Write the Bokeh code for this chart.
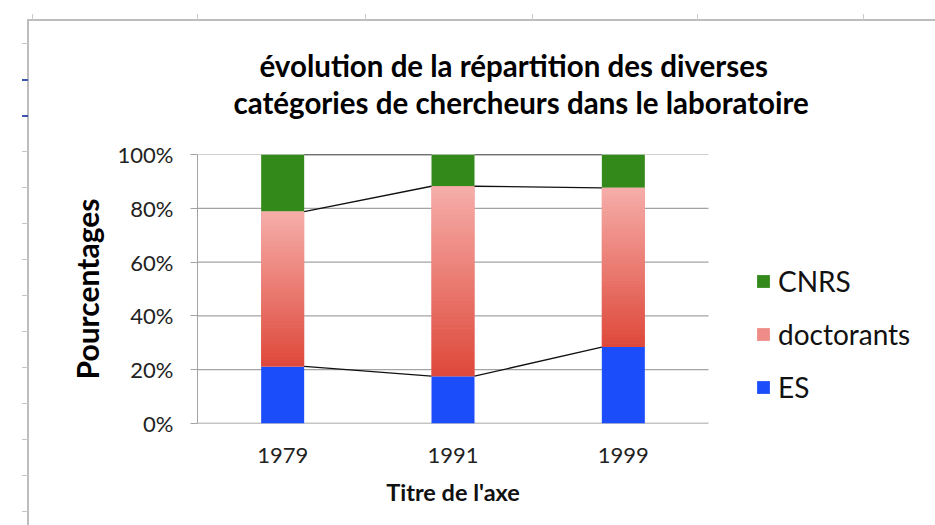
from bokeh.plotting import figure
from bokeh.models import (ColumnDataSource, FixedTicker, NumeralTickFormatter,
                          Legend, LegendItem, Range1d, LinearAxis, Title)
from bokeh.embed import file_html
from bokeh.resources import INLINE

# ---------------- data ----------------
years = ["1979", "1991", "1999"]
es = [0.212, 0.176, 0.284]
doctorants = [0.576, 0.706, 0.592]
cnrs = [0.212, 0.118, 0.124]
y_ticks = [0.0, 0.2, 0.4, 0.6, 0.8, 1.0]
series_names = ["CNRS", "doctorants", "ES"]
title_lines = ["évolution de la répartition des diverses",
               "catégories de chercheurs dans le laboratoire"]
y_label = "Pourcentages"
x_label = "Titre de l'axe"

# ---------------- style ----------------
FONT = "Lato"
BLUE = "#1c4dfb"
GREEN = "#33891a"
PINK_TOP = (246, 174, 170)
RED_BOT = (222, 72, 58)
GRID = "#a3a3a3"
W, H = 935, 525
BW = 0.2525
FRAME_L, FRAME_T, FRAME_B = 197, 154, 423
CAT_RIGHT = 708          # pixel where the category area ends (legend sits beyond)

# spreadsheet frame lines around the chart (pure decoration, CSS background layers)
layers = []
def css_box(x, y, w, h, col):
    layers.append((f"linear-gradient({col},{col})", f"{x}px {y}px", f"{w}px {h}px"))
css_box(22, 79, 6, 2, "#3d55b0")
css_box(22, 115, 6, 2, "#3d55b0")
for k in range(14):
    css_box(22, 43 + 36 * k, 6, 1, "#c6c6c6")
for xx in [32, 197, 365, 532, 697, 863]:
    css_box(xx, 14, 1, 6, "#cccccc")
css_box(28, 19, W - 28, 2, "#bdbdbd")
css_box(27, 19, 2, H - 19, "#bdbdbd")
styles = {
    "background-color": "white",
    "background-image": ",".join(l[0] for l in layers),
    "background-position": ",".join(l[1] for l in layers),
    "background-size": ",".join(l[2] for l in layers),
    "background-repeat": "no-repeat",
}

n = len(years)
xs = [i + 0.5 for i in range(n)]
x_end = n * (W - FRAME_L) / (CAT_RIGHT - FRAME_L)

p = figure(x_range=Range1d(0, x_end), y_range=Range1d(0, 1),
           width=W, height=H, output_backend="svg", toolbar_location=None,
           title=title_lines[0],
           min_border_left=FRAME_L, min_border_right=0, min_border_top=FRAME_T,
           min_border_bottom=H - FRAME_B, background_fill_color="white",
           border_fill_alpha=0, outline_line_color=None, styles=styles)

# horizontal gridlines limited to the category area
p.xgrid.grid_line_color = None
p.ygrid.grid_line_color = None
p.segment(x0=[0] * (len(y_ticks) - 1), x1=[n] * (len(y_ticks) - 1),
          y0=y_ticks[1:], y1=y_ticks[1:], line_color=GRID, line_width=1.2)
p.segment(x0=[0], x1=[n], y0=[y_ticks[0]], y1=[y_ticks[0]],
          line_color="#8a8a8a", line_width=1.4)

doc_top = [e + d for e, d in zip(es, doctorants)]
tot_top = [e + d + c for e, d, c in zip(es, doctorants, cnrs)]

src = ColumnDataSource(dict(x=xs, es=es, doc_top=doc_top, tot=tot_top))
r_es = p.vbar(x="x", bottom=0, top="es", width=BW, fill_color=BLUE,
              line_color=None, source=src)
r_doc = p.vbar(x="x", bottom="es", top="doc_top", width=BW, fill_color="#ef8c87",
               line_color=None, source=src)
r_cnrs = p.vbar(x="x", bottom="doc_top", top="tot", width=BW, fill_color=GREEN,
                line_color=None, source=src)

# gradient strips over the doctorants segment
N = 48
gx, gb, gt, gc = [], [], [], []
for i in range(n):
    b, t = es[i], doc_top[i]
    for k in range(N):
        f = (k + 0.5) / N
        gx.append(xs[i])
        gb.append(b + (t - b) * k / N)
        gt.append(min(t, b + (t - b) * (k + 1) / N + 0.002))
        c = tuple(int(round(RED_BOT[j] + (PINK_TOP[j] - RED_BOT[j]) * f)) for j in range(3))
        gc.append("#%02x%02x%02x" % c)
p.vbar(x=gx, bottom=gb, top=gt, width=BW, fill_color=gc, line_color=None)

# series lines between bars
sx0, sx1, sy0, sy1 = [], [], [], []
for lv in [es, doc_top, tot_top]:
    for i in range(n - 1):
        sx0.append(xs[i] + BW / 2)
        sx1.append(xs[i + 1] - BW / 2)
        sy0.append(lv[i])
        sy1.append(lv[i + 1])
p.segment(x0=sx0, x1=sx1, y0=sy0, y1=sy1, line_color="#111111", line_width=1.3)

# y axis
ya = p.yaxis[0]
ya.ticker = FixedTicker(ticks=y_ticks)
ya.formatter = NumeralTickFormatter(format="0%")
ya.major_tick_out = 7
ya.major_tick_in = 0
ya.minor_tick_line_color = None
ya.major_tick_line_color = GRID
ya.axis_line_color = GRID
ya.major_label_standoff = 17
ya.major_label_text_font = FONT
ya.major_label_text_font_size = "22px"
ya.major_label_text_color = "#222222"
ya.axis_label = y_label
ya.axis_label_text_font = FONT
ya.axis_label_text_font_style = "bold"
ya.axis_label_text_font_size = "30px"
ya.axis_label_text_color = "#000000"
ya.axis_label_standoff = 10

# x axis (categories)
xa = p.xaxis[0]
xa.ticker = FixedTicker(ticks=xs)
xa.major_label_overrides = {x: y for x, y in zip(xs, years)}
xa.axis_line_color = None
xa.major_tick_line_color = None
xa.minor_tick_line_color = None
xa.major_label_standoff = 18
xa.major_label_text_font = FONT
xa.major_label_text_font_size = "22px"
xa.major_label_text_color = "#222222"

# axis title centred under the category area (second axis below, one label)
x_mid = n / 2
xt = LinearAxis(ticker=FixedTicker(ticks=[x_mid]), major_label_overrides={x_mid: x_label},
                axis_line_color=None, major_tick_line_color=None, minor_tick_line_color=None,
                major_tick_out=0, major_tick_in=0, major_label_standoff=12,
                major_label_text_font=FONT, major_label_text_font_style="bold",
                major_label_text_font_size="23.5px", major_label_text_color="#111111")
p.add_layout(xt, "below")

# legend (inside the frame, right of the bars)
legend = Legend(items=[LegendItem(label=series_names[0], renderers=[r_cnrs]),
                       LegendItem(label=series_names[1], renderers=[r_doc]),
                       LegendItem(label=series_names[2], renderers=[r_es])],
                location=(755 - FRAME_L, 19), orientation="vertical",
                glyph_width=16, glyph_height=16, label_height=34,
                label_standoff=7, spacing=19, padding=0, margin=0,
                border_line_color=None, background_fill_alpha=0,
                label_text_font=FONT, label_text_font_size="28px",
                label_text_color="#111111")
p.add_layout(legend, "center")

# title: spacer axis, second line, then first line (outermost, p.title)
spacer = LinearAxis(ticker=FixedTicker(ticks=[1.0]), major_label_overrides={1.0: ""},
                    major_tick_out=35, major_tick_in=0, major_label_standoff=0,
                    major_label_text_font_size="1px",
                    axis_line_alpha=0, major_tick_line_alpha=0,
                    minor_tick_line_color=None)
p.add_layout(spacer, "above")
p.add_layout(Title(text=title_lines[1], align="left", offset=36, standoff=0,
                   text_font=FONT, text_font_style="bold", text_font_size="29.5px",
                   text_color="#000000"), "above")
p.title.align = "left"
p.title.offset = 62
p.title.standoff = 0
p.title.text_font = FONT
p.title.text_font_style = "bold"
p.title.text_font_size = "29.5px"
p.title.text_color = "#000000"

open("out.html", "w").write(file_html(p, INLINE))
